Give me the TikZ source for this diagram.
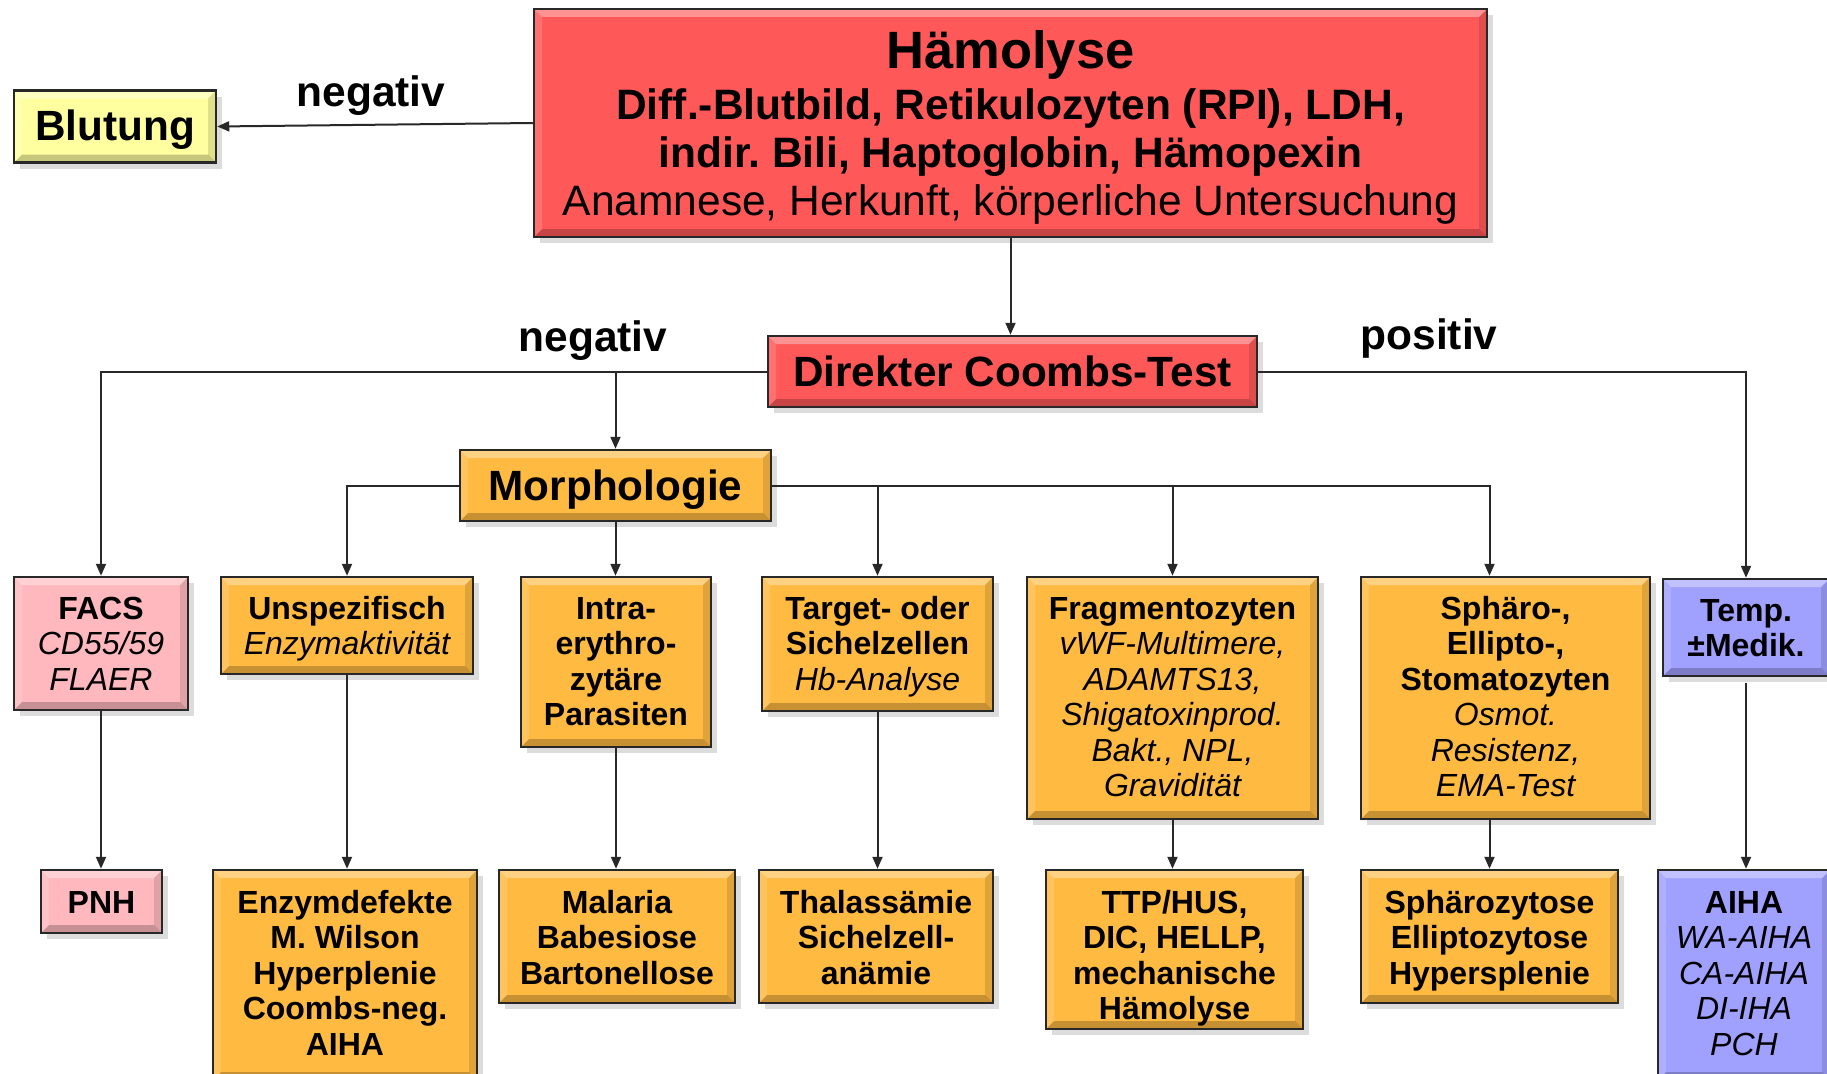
\documentclass[tikz,border=0pt]{standalone}
\usepackage{fontspec}
\setmainfont{Liberation Sans}
\usetikzlibrary{arrows.meta,shadows,calc}
\frenchspacing

\definecolor{hred}{RGB}{255,88,88}
\definecolor{hyel}{RGB}{255,255,160}
\definecolor{horange}{RGB}{255,186,66}
\definecolor{hpink}{RGB}{255,185,190}
\definecolor{hblue}{RGB}{160,160,255}
\definecolor{hline}{RGB}{40,40,40}

% #1 width, #2 height, #3 first baseline below top, #4 text
\newcommand\hbxt[4]{\parbox[c][#2pt][t]{#1pt}{\frenchspacing\centering\rule{0pt}{#3pt}#4}}

\tikzset{
 box/.style={draw=hline, line width=2.5pt, inner sep=0pt,
   font=\fontsize{32}{35.5}\selectfont\bfseries,
   drop shadow={shadow xshift=6pt, shadow yshift=-6pt, fill=black!30, opacity=0.45},
   path picture={
     \fill[white,opacity=0.35] (path picture bounding box.north west) -- (path picture bounding box.north east) -- ([shift={(-8pt,-8pt)}]path picture bounding box.north east) -- ([shift={(8pt,-8pt)}]path picture bounding box.north west) -- cycle;
     \fill[black,opacity=0.22] (path picture bounding box.south west) -- (path picture bounding box.south east) -- ([shift={(-8pt,8pt)}]path picture bounding box.south east) -- ([shift={(8pt,8pt)}]path picture bounding box.south west) -- cycle;
     \fill[black,opacity=0.12] (path picture bounding box.north east) -- (path picture bounding box.south east) -- ([shift={(-8pt,8pt)}]path picture bounding box.south east) -- ([shift={(-8pt,-8pt)}]path picture bounding box.north east) -- cycle;
     \fill[white,opacity=0.15] (path picture bounding box.north west) -- (path picture bounding box.south west) -- ([shift={(8pt,8pt)}]path picture bounding box.south west) -- ([shift={(8pt,-8pt)}]path picture bounding box.north west) -- cycle;
   }},
 bigf/.style={font=\fontsize{42.3}{48}\selectfont\bfseries},
 conn/.style={draw=hline, line width=2pt},
 arr/.style={conn, -{Triangle[length=12pt,width=10pt]}},
 lbl/.style={font=\fontsize{42.5}{48}\selectfont\bfseries, anchor=base, inner sep=0pt},
}

\begin{document}
\begin{tikzpicture}[x=1pt,y=1pt]
\useasboundingbox (0,0) rectangle (1827,-1073);
\fill[white] (0,0) rectangle (1827,-1073);

% top level
\node[box, fill=hred, font=\fontsize{42.5}{48}\selectfont] (ham) at (1010.5,-123)
 {\hbxt{953}{228}{59}{{\fontsize{52.5}{48}\selectfont\bfseries Hämolyse}\\[3pt]
  {\bfseries Diff.-Blutbild, Retikulozyten (RPI), LDH,}\\
  {\bfseries indir. Bili, Haptoglobin, Hämopexin}\\
  Anamnese, Herkunft, körperliche Untersuchung}};
\node[box, bigf, fill=hyel] (blut) at (115,-126.5) {\hbxt{202}{72}{50}{Blutung}};
\node[box, bigf, fill=hred] (dct) at (1012.5,-371.5) {\hbxt{489}{71}{50}{Direkter Coombs-Test}};
\node[box, bigf, fill=horange] (morph) at (615.5,-485.5) {\hbxt{311}{71}{50}{Morphologie}};

% labels
\node[lbl] (lneg1) at (371,-106) {negativ};
\node[lbl] (lneg2) at (593,-351) {negativ};
\node[lbl] (lpos) at (1429,-349) {positiv};

% row 2 (top at 577)
\node[box, fill=hpink] (facs) at (101,-643.5) {\hbxt{174}{133}{42}{FACS\\{\itshape\mdseries CD55/59}\\{\itshape\mdseries FLAER}}};
\node[box, fill=horange] (unsp) at (347,-625.5) {\hbxt{252}{97}{42}{Unspezifisch\\{\itshape\mdseries Enzymaktivität}}};
\node[box, fill=horange] (intra) at (616,-662) {\hbxt{190}{170}{42}{Intra-\\erythro-\\zytäre\\Parasiten}};
\node[box, fill=horange] (target) at (877.5,-644) {\hbxt{231}{134}{42}{Target- oder\\Sichelzellen\\{\itshape\mdseries Hb-Analyse}}};
\node[box, fill=horange] (frag) at (1172.5,-698) {\hbxt{291}{242}{42}{Fragmentozyten\\{\itshape\mdseries vWF-Multimere,}\\{\itshape\mdseries ADAMTS13,}\\{\itshape\mdseries Shigatoxinprod.}\\{\itshape\mdseries Bakt., NPL,}\\{\itshape\mdseries Gravidität}}};
\node[box, fill=horange] (sphaero) at (1505.5,-698) {\hbxt{289}{242}{42}{Sphäro-,\\Ellipto-,\\Stomatozyten\\{\itshape\mdseries Osmot.}\\{\itshape\mdseries Resistenz,}\\{\itshape\mdseries EMA-Test}}};
\node[box, fill=hblue] (temp) at (1746,-627.5) {\hbxt{166}{97}{42}{Temp.\\±Medik.}};

% row 3 (top at 870)
\node[box, fill=hpink] (pnh) at (101.5,-901.5) {\hbxt{121}{63}{43}{PNH}};
\node[box, fill=horange] (enz) at (345,-975) {\hbxt{264}{210}{43}{Enzymdefekte\\M. Wilson\\Hyperplenie\\Coombs-neg.\\AIHA}};
\node[box, fill=horange] (mal) at (617,-936.5) {\hbxt{236}{133}{43}{Malaria\\Babesiose\\Bartonellose}};
\node[box, fill=horange] (thal) at (876,-936.5) {\hbxt{234}{133}{43}{Thalassämie\\Sichelzell-\\anämie}};
\node[box, fill=horange] (ttp) at (1174.5,-949.5) {\hbxt{257}{159}{43}{TTP/HUS,\\DIC, HELLP,\\mechanische\\Hämolyse}};
\node[box, fill=horange] (sphz) at (1489.5,-936.5) {\hbxt{257}{133}{43}{Sphärozytose\\Elliptozytose\\Hypersplenie}};
\node[box, fill=hblue] (aiha) at (1744,-975) {\hbxt{172}{210}{43}{AIHA\\{\itshape\mdseries WA-AIHA}\\{\itshape\mdseries CA-AIHA}\\{\itshape\mdseries DI-IHA}\\{\itshape\mdseries PCH}}};

% connectors
\draw[arr] (ham.west) -- (blut.east);
\draw[arr] (ham.south) -- (ham.south |- dct.north);
\draw[arr] (dct.west) -| (facs.north);
\draw[arr] (dct.west -| morph.north) -- (morph.north);
\draw[arr] (dct.east) -| (temp.north);
\draw[arr] (morph.west) -| (unsp.north);
\draw[arr] (morph.south) -- (morph.south |- intra.north);
\draw[arr] (morph.east) -| (target.north);
\draw[arr] (morph.east) -| (frag.north);
\draw[arr] (morph.east) -| (sphz.north |- sphaero.north);

\draw[arr] (facs.south) -- (facs.south |- pnh.north);
\draw[arr] (unsp.south) -- (unsp.south |- enz.north);
\draw[arr] (intra.south) -- (intra.south |- mal.north);
\draw[arr] (target.south) -- (target.south |- thal.north);
\draw[arr] (frag.south) -- (frag.south |- ttp.north);
\draw[arr] (sphaero.south -| sphz.north) -- (sphz.north);
\draw[arr, shorten <=6pt] (temp.south) -- (temp.south |- aiha.north);
\end{tikzpicture}
\end{document}
